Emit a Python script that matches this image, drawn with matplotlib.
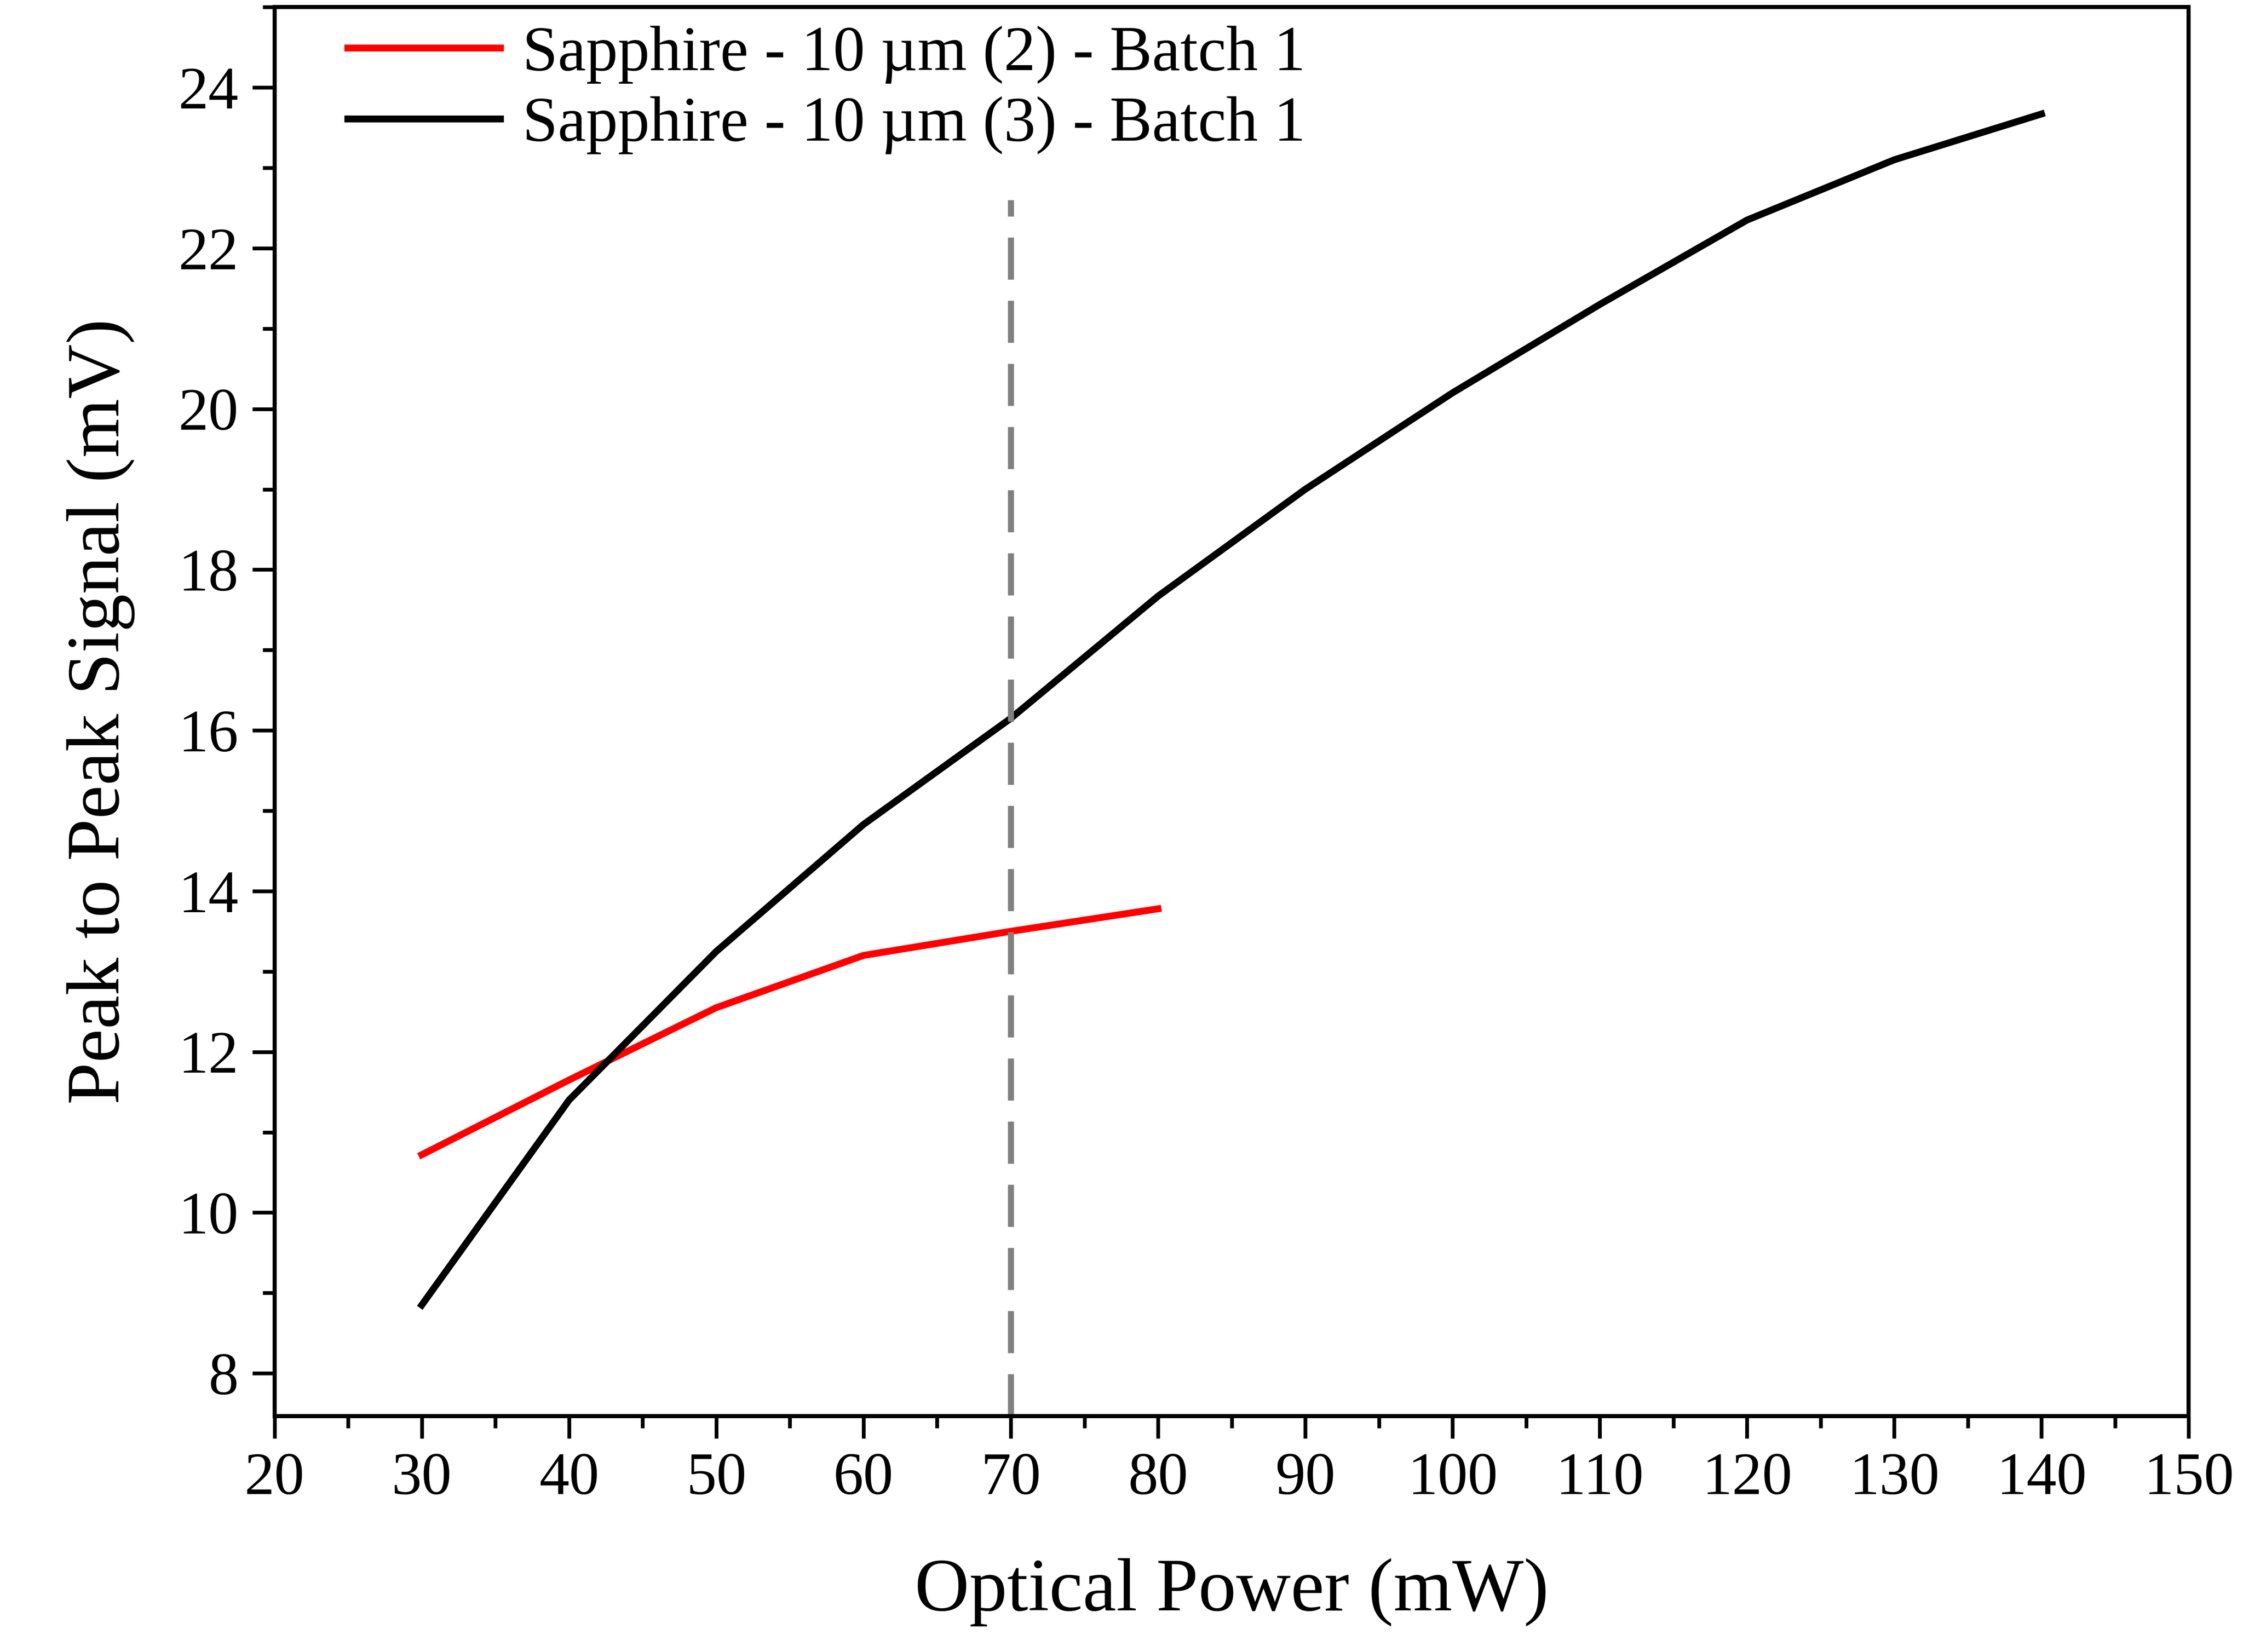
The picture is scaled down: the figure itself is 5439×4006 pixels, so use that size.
import matplotlib
matplotlib.use("Agg")
import matplotlib.pyplot as plt
from matplotlib.ticker import MultipleLocator

x_red = [30, 40, 50, 60, 70, 80]
y_red = [10.72, 11.65, 12.55, 13.2, 13.5, 13.78]
x_blk = [30, 40, 50, 60, 70, 80, 90, 100, 110, 120, 130, 140]
y_blk = [8.85, 11.4, 13.25, 14.83, 16.15, 17.67, 19.0, 20.2, 21.3, 22.35, 23.1, 23.67]
label_red = "Sapphire - 10 µm (2) - Batch 1"
label_blk = "Sapphire - 10 µm (3) - Batch 1"

plt.rcParams['font.family'] = ['Liberation Serif', 'DejaVu Serif']
fig = plt.figure(figsize=(5439/300, 4006/300), dpi=300)
ax = fig.add_axes([0.1224, 0.1429, 0.8534, 0.8528])
ax.plot(x_red, y_red, color='#ff0000', lw=4, label=label_red)
ax.plot(x_blk, y_blk, color='black', lw=4, label=label_blk)
ax.plot([70, 70], [7.47, 22.6], color='gray', lw=3.5, ls=(0, (7, 3.5)))
ax.set_xlim(20, 150)
ax.set_ylim(7.47, 25)
ax.xaxis.set_major_locator(MultipleLocator(10))
ax.xaxis.set_minor_locator(MultipleLocator(5))
ax.yaxis.set_major_locator(MultipleLocator(2))
ax.yaxis.set_minor_locator(MultipleLocator(1))
ax.tick_params(which='both', direction='out', width=2.2, labelsize=35, top=False, right=False)
ax.tick_params(which='major', length=13, pad=8)
ax.tick_params(which='minor', length=7)
for s in ax.spines.values():
    s.set_linewidth(2.4)
ax.set_xlabel("Optical Power (mW)", fontsize=44, labelpad=30)
ax.set_ylabel("Peak to Peak Signal (mV)", fontsize=44, labelpad=25)
ax.legend(loc='upper left', frameon=False, fontsize=37, handlelength=2.4,
          handletextpad=0.35, borderaxespad=0.0, bbox_to_anchor=(0.025, 1.005),
          labelspacing=0.2)
fig.savefig("out.png", dpi=300)
